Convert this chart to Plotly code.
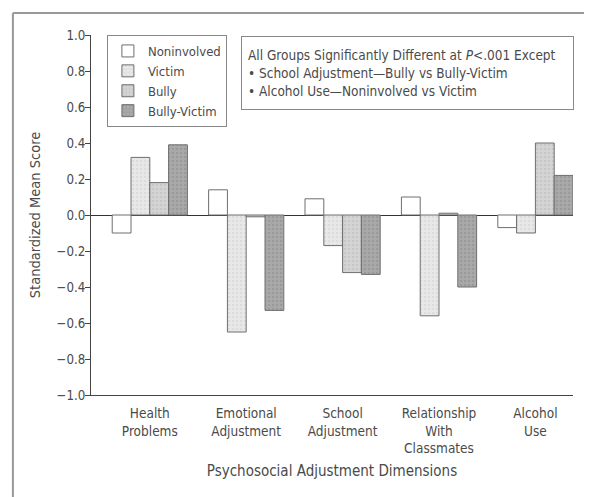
import plotly.graph_objects as go

categories = ["Health<br>Problems", "Emotional<br>Adjustment", "School<br>Adjustment",
              "Relationship<br>With<br>Classmates", "Alcohol<br>Use"]
groups = ["Noninvolved", "Victim", "Bully", "Bully-Victim"]
noninvolved = [-0.10, 0.14, 0.09, 0.10, -0.07]
victim = [0.32, -0.65, -0.17, -0.56, -0.10]
bully = [0.18, -0.01, -0.32, 0.01, 0.40]
bully_victim = [0.39, -0.53, -0.33, -0.40, 0.22]
series = [noninvolved, victim, bully, bully_victim]
y_ticks = [1.0, 0.8, 0.6, 0.4, 0.2, 0.0, -0.2, -0.4, -0.6, -0.8, -1.0]

fills = ["#ffffff", "#e8e8e8", "#d4d4d4", "#a9a9a9"]
patterns = ["", ".", ".", "."]
pfg = ["#ffffff", "#cfcfcf", "#b8b8b8", "#8a8a8a"]

FONT = "DejaVu Sans Condensed, Liberation Sans Narrow, Arial Narrow, Liberation Sans, sans-serif"
TXT = "#4a4a4a"

# page body has an 8px default margin -> figure sized to the remaining window
W, H = 584, 489

fig = go.Figure()
xs = list(range(len(categories)))
for name, vals, fc, pt, fg in zip(groups, series, fills, patterns, pfg):
    marker = dict(color=fc, line=dict(color="#6e6e6e", width=1))
    if pt:
        marker["pattern"] = dict(shape=pt, fgcolor=fg, bgcolor=fc, size=4, solidity=0.3)
    fig.add_trace(go.Bar(x=xs, y=vals, name=name, marker=marker))

fig.update_layout(
    width=W, height=H,
    margin=dict(l=83, r=19, t=27, b=102, autoexpand=False),
    paper_bgcolor="white", plot_bgcolor="white",
    barmode="group", bargap=0.22, bargroupgap=0,
    font=dict(family=FONT, size=13, color=TXT),
    showlegend=True,
    legend=dict(x=0.033, y=1.0, xanchor="left", yanchor="top",
                bordercolor="#888888", borderwidth=1, bgcolor="white",
                font=dict(size=13, color=TXT), tracegroupgap=0,
                itemwidth=30),
    xaxis=dict(range=[-0.61, 4.39], tickmode="array", tickvals=xs, ticktext=categories,
               showline=True, linecolor="#444444", linewidth=1, ticks="",
               showgrid=False, zeroline=False, automargin=False,
               tickfont=dict(size=13.5, color=TXT), ticklabelstandoff=6,
               title=dict(text="Psychosocial Adjustment Dimensions", standoff=10,
                          font=dict(size=15, color=TXT))),
    yaxis=dict(range=[-1.0, 1.0], tickmode="array", tickvals=y_ticks,
               ticktext=[f"{v:.1f}".replace("-", "\u2212") for v in y_ticks],
               showline=True, linecolor="#444444", linewidth=1, ticks="outside",
               ticklen=5, tickcolor="#444444", showgrid=False, automargin=False,
               tickfont=dict(size=13.2, color=TXT), ticklabelstandoff=-3,
               zeroline=True, zerolinecolor="#333333", zerolinewidth=1,
               title=dict(text="Standardized Mean Score", standoff=12,
                          font=dict(size=14.5, color=TXT))),
)

fig.add_annotation(
    xref="paper", yref="paper", x=0.311, y=0.997, xanchor="left", yanchor="top",
    text=("All Groups Significantly Different at <i>P</i>&lt;.001 Except<br>"
          "• School Adjustment\u2014Bully vs Bully-Victim<br>"
          "• Alcohol Use\u2014Noninvolved vs Victim"),
    align="left", showarrow=False, bordercolor="#888888", borderwidth=1,
    borderpad=6, bgcolor="white", font=dict(size=13.5, color=TXT),
    width=319, height=60,
)

# outer frame
fig.add_shape(type="line", xref="paper", yref="paper", x0=-0.162, x1=-0.162,
              y0=1.061, y1=-0.3, line=dict(color="#999999", width=2))
fig.add_shape(type="line", xref="paper", yref="paper", x0=-0.162, x1=1.05,
              y0=1.061, y1=1.061, line=dict(color="#999999", width=2))

fig.write_html("out.html")
